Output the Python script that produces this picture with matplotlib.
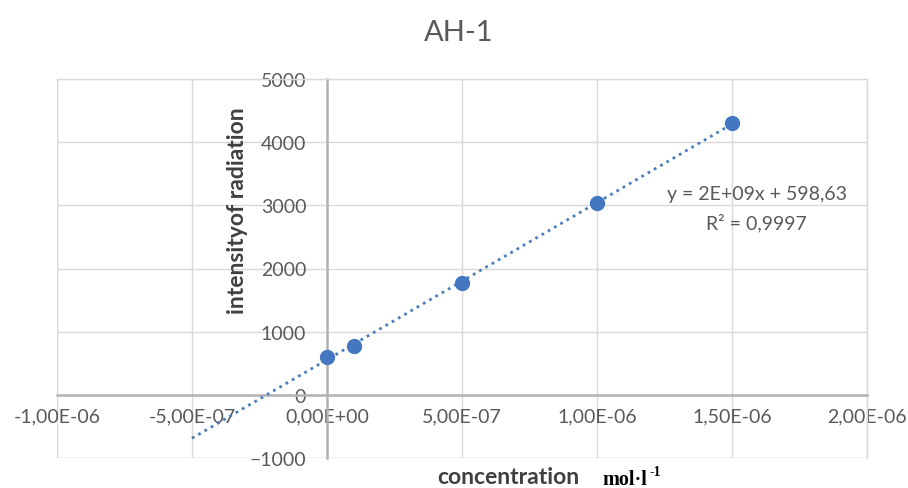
import numpy as np
import matplotlib
matplotlib.use("Agg")
import matplotlib.pyplot as plt

# Data
concentration = [0.0, 1.0e-7, 5.0e-7, 1.0e-6, 1.5e-6]
intensity = [605, 780, 1765, 3035, 4305]
x_ticks = [-1.0e-6, -5.0e-7, 0.0, 5.0e-7, 1.0e-6, 1.5e-6, 2.0e-6]
x_tick_labels = ["-1,00E-06", "-5,00E-07", "0,00E+00", "5,00E-07", "1,00E-06", "1,50E-06", "2,00E-06"]
y_ticks = [-1000, 0, 1000, 2000, 3000, 4000, 5000]
trend_range = [-5.0e-7, 1.5e-6]
title = "AH-1"
equation = "y = 2E+09x + 598,63"
r_squared = "R² = 0,9997"

plt.rcParams['font.family'] = ['Lato', 'DejaVu Sans']

fig = plt.figure(figsize=(9.08, 4.89), dpi=100)
ax = fig.add_axes([57/908, 1-459/489, (867-57)/908, (459-80)/489])

ax.set_xlim(-1.0e-6, 2.0e-6)
ax.set_ylim(-1000, 5000)

# grid
ax.set_xticks(x_ticks)
ax.set_yticks(y_ticks)
ax.grid(True, color="#d9d9d9", linewidth=1.0, zorder=0)
for s in ['top', 'right']:
    ax.spines[s].set_color("#d9d9d9")
    ax.spines[s].set_linewidth(1.0)
ax.spines['left'].set_position(('data', 0))
ax.spines['bottom'].set_position(('data', 0))
ax.spines['left'].set_color("#b3b3b3")
ax.spines['bottom'].set_color("#b3b3b3")
ax.spines['left'].set_linewidth(1.8)
ax.spines['bottom'].set_linewidth(1.8)
ax.axvline(-1.0e-6, color="#d9d9d9", lw=1.0, zorder=0)
ax.axhline(-1000, color="#d9d9d9", lw=1.0, zorder=0)

ax.set_xticklabels(x_tick_labels)
ax.tick_params(axis='both', length=0, labelsize=14, labelcolor="#595959")
ax.tick_params(axis='x', pad=9)
ax.tick_params(axis='y', pad=15)

# trendline
coef = np.polyfit(concentration, intensity, 1)
tx = np.array(trend_range)
ax.plot(tx, np.polyval(coef, tx), linestyle=(0, (1, 1.6)), color="#4a7ebb", lw=2.0, zorder=3)

# points
ax.plot(concentration, intensity, 'o', color="#4377c2", markersize=10, zorder=4)

# equation
ax.text(1.593e-6, 3190, equation, ha='center', va='center', fontsize=14, color="#595959")
ax.text(1.59e-6, 2730, r_squared, ha='center', va='center', fontsize=14, color="#595959")

# axis labels
fig.text(238/908, 1-211/489, "intensityof radiation", rotation=90, ha='center', va='center',
         fontsize=16.5, fontweight='bold', color="#404040")
fig.text(508/908, 1-478/489, "concentration", ha='center', va='center',
         fontsize=16.5, fontweight='bold', color="#404040")
fig.text(602/908, 1-480/489, "mol·l", ha='left', va='center',
         fontsize=14.5, fontweight='bold', color="black", family=['Liberation Serif', 'DejaVu Serif'])
fig.text(649/908, 1-472/489, "-1", ha='left', va='center',
         fontsize=10, fontweight='bold', color="black", family=['Liberation Serif', 'DejaVu Serif'])

fig.text(459/908, 1-33/489, title, ha='center', va='center', fontsize=21, color="#595959")

fig.savefig("out.png", dpi=100)
